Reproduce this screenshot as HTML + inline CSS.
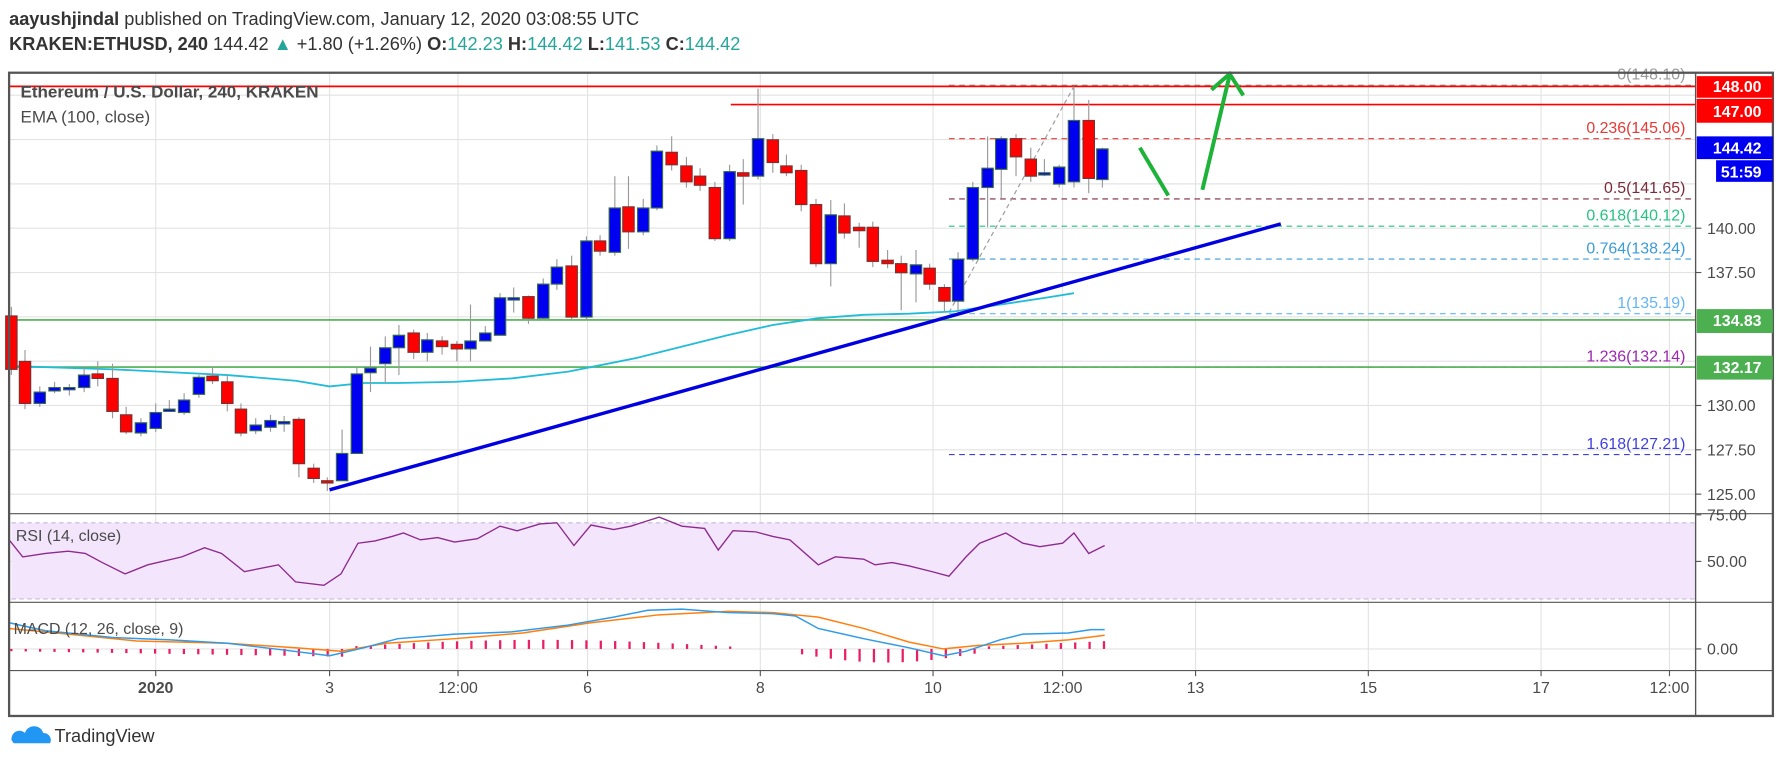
<!DOCTYPE html>
<html><head><meta charset="utf-8"><style>
html,body{margin:0;padding:0;background:#fff;}
svg{display:block;font-family:"Liberation Sans",sans-serif;}
</style></head><body>
<svg id="s" width="1782" height="762" viewBox="0 0 1568 670.5" xmlns="http://www.w3.org/2000/svg">
<rect x="0" y="0" width="1568" height="670.5" fill="#fff"/>
<text x="8" y="22" font-size="16" fill="#333"><tspan font-weight="bold">aayushjindal</tspan> published on TradingView.com, January 12, 2020 03:08:55 UTC</text>
<text x="8" y="44" font-size="16" fill="#333"><tspan font-weight="bold">KRAKEN:ETHUSD, 240</tspan>  144.42 <tspan fill="#26a69a">▲</tspan> +1.80 (+1.26%) <tspan font-weight="bold">O:</tspan><tspan fill="#26a69a">142.23</tspan> <tspan font-weight="bold">H:</tspan><tspan fill="#26a69a">144.42</tspan> <tspan font-weight="bold">L:</tspan><tspan fill="#26a69a">141.53</tspan> <tspan font-weight="bold">C:</tspan><tspan fill="#26a69a">144.42</tspan></text>
<g id="grid" stroke="#e3e3e3" stroke-width="1"></g>
<rect x="10" y="460" width="1482" height="67" fill="#f3e6fc"/>
<line x1="10" y1="460" x2="1492" y2="460" stroke="#c8b8d8" stroke-dasharray="4,3"/>
<line x1="10" y1="527" x2="1492" y2="527" stroke="#c8b8d8" stroke-dasharray="4,3"/>
<g id="fib"></g>
<line x1="8" y1="76" x2="1492" y2="76" stroke="#f00" stroke-width="1.5"/>
<line x1="643" y1="92" x2="1492" y2="92" stroke="#f00" stroke-width="1.5"/>
<line x1="8" y1="281.5" x2="1492" y2="281.5" stroke="#4caf50" stroke-width="1.5"/>
<line x1="8" y1="323" x2="1492" y2="323" stroke="#4caf50" stroke-width="1.5"/>
<line x1="835" y1="275" x2="945" y2="76" stroke="#999" stroke-dasharray="4,3"/>
<polyline fill="none" stroke="#22bcd8" stroke-width="1.6" points="8,322 100,325 140,327 200,330 260,335 290,340 320,337 350,337 400,336 450,333 500,327 520,323 560,315 600,305 640,295 680,286 720,280 760,277 800,276 840,274 880,268 920,262 945,258"/>
<g id="candles"></g>
<line x1="290" y1="431" x2="1127" y2="197" stroke="#0000e0" stroke-width="3"/>
<line x1="1003" y1="130" x2="1028" y2="172" stroke="#1db338" stroke-width="3.5"/>
<line x1="1058" y1="167" x2="1082" y2="66" stroke="#1db338" stroke-width="3.5"/>
<polyline points="1066,79 1082,65 1094,84" fill="none" stroke="#1db338" stroke-width="3.5"/>
<text x="18" y="86" font-size="15" font-weight="bold" fill="#4a4a4a">Ethereum / U.S. Dollar, 240, KRAKEN</text>
<text x="18" y="108" font-size="15" fill="#4a4a4a">EMA (100, close)</text>
<polyline fill="none" stroke="#8e2a8e" stroke-width="1.2" points="8,475 20,490 40,487 60,485 75,487 90,495 110,505 130,497 160,490 180,482 195,487 215,503 245,497 260,512 285,515 300,505 315,478 330,476 345,472 355,469 370,475 385,473 400,477 420,474 440,463 455,467 475,461 490,460 505,480 520,462 540,466 555,463 580,455 600,463 620,465 632,484 645,467 665,468 680,472 695,475 720,497 735,490 760,492 770,497 785,495 800,498 820,503 835,507 850,490 862,478 885,469 900,478 915,481 935,478 945,469 958,487 972,480"/>
<text x="14" y="476" font-size="14" fill="#4a4a4a">RSI (14, close)</text>
<g id="hist"></g>
<polyline fill="none" stroke="#ff7f0e" stroke-width="1.3" points="8,553 60,558 120,564 200,566 260,570 300,573 340,566 400,562 460,557 520,548 580,541 640,538 680,539 720,543 760,553 800,565 830,571 860,568 900,566 940,563 972,559"/>
<polyline fill="none" stroke="#2f9ae8" stroke-width="1.3" points="8,548 40,555 100,561 150,563 200,566 250,572 290,577 320,570 350,562 400,558 450,556 500,550 540,543 570,537 600,536 640,539 680,540 700,542 720,553 760,562 800,570 830,577 850,573 880,563 900,558 940,557 960,554 972,554"/>
<text x="12" y="558" font-size="14" fill="#4a4a4a">MACD (12, 26, close, 9)</text>
<g stroke="#555" fill="none">
<rect x="8" y="64" width="1552" height="566" stroke-width="2"/>
<line x1="1492" y1="64" x2="1492" y2="630" stroke-width="1.2"/>
<line x1="8" y1="452" x2="1560" y2="452"/>
<line x1="8" y1="530" x2="1560" y2="530"/>
<line x1="8" y1="590" x2="1560" y2="590"/>
</g>
<g id="axis" font-size="13" fill="#4a4a4a"></g>
<g font-size="14" font-weight="bold" fill="#fff">
<rect x="1493" y="67" width="67" height="19" fill="#f00"/><text x="1550" y="81" text-anchor="end">148.00</text>
<rect x="1493" y="87" width="67" height="21" fill="#f00"/><text x="1550" y="103" text-anchor="end">147.00</text>
<rect x="1493" y="120" width="67" height="20" fill="#0000f0"/><text x="1550" y="135" text-anchor="end">144.42</text>
<rect x="1510" y="141" width="50" height="19" fill="#0000f0"/><text x="1550" y="156" text-anchor="end">51:59</text>
<rect x="1493" y="272" width="67" height="21" fill="#4caf50"/><text x="1550" y="287" text-anchor="end">134.83</text>
<rect x="1493" y="313" width="67" height="21" fill="#4caf50"/><text x="1550" y="328" text-anchor="end">132.17</text>
</g>
<g transform="translate(10,637)"><path d="M0,14 C0,6 8,4 12,8 C14,0 26,0 28,8 C34,8 36,14 34,17 L2,17 Z" fill="#2196f3"/></g>
<text x="48" y="653" font-size="16" fill="#333">TradingView</text>
</svg>
<script>
var NS="http://www.w3.org/2000/svg";
function el(p,t,a){var e=document.createElementNS(NS,t);for(var k in a)e.setAttribute(k,a[k]);document.getElementById(p).appendChild(e);return e;}
function Y(p){return 76+(148-p)*15.6;}
// grid
[137,290,403,517,669,821,935,1052,1204,1356,1469].forEach(function(x){el("grid","line",{x1:x,y1:64,x2:x,y2:590});});
for(var p=125;p<=147.5;p+=2.5){el("grid","line",{x1:8,y1:Y(p),x2:1492,y2:Y(p)});}
el("grid","line",{x1:8,y1:494,x2:1492,y2:494});el("grid","line",{x1:8,y1:571,x2:1492,y2:571});
// fib
var fib=[[75,"#999","0(148.10)"],[122,"#e53935","0.236(145.06)"],[175,"#7b2a3a","0.5(141.65)"],[199,"#26c281","0.618(140.12)"],[228,"#3a9bd9","0.764(138.24)"],[276,"#64b5f6","1(135.19)"],[323,"#9c27b0","1.236(132.14)"],[400,"#3f3fe0","1.618(127.21)"]];
fib.forEach(function(f){el("fib","line",{x1:835,y1:f[0],x2:1492,y2:f[0],stroke:f[1],"stroke-dasharray":"5,4"});var t=el("fib","text",{x:1483,y:f[0]-5,"font-size":14,fill:f[1],"text-anchor":"end"});t.textContent=f[2];});
// candles [x,o,c,h,l]
var C=[[10,278,325,270,330],[22,318,355,308,360],[35,355,345,340,358],[48,344,341,336,346],[61,343,341,338,348],[74,341,330,322,345],[86,329,333,318,340],[99,333,362,320,368],[111,365,380,358,382],[124,381,372,368,384],[137,377,363,355,380],[149,361,360,352,362],[162,363,352,346,365],[175,347,332,330,350],[187,331,335,322,338],[200,336,355,330,362],[212,360,381,355,384],[225,379,374,368,382],[238,376,370,365,380],[250,372,371,366,380],[263,369,408,367,420],[276,412,421,408,425],[288,423,425,420,432],[301,423,399,378,423],[314,399,329,322,399],[326,328,324,305,345],[339,320,306,296,337],[351,306,295,286,330],[364,293,310,290,316],[376,310,299,293,318],[389,300,305,296,312],[402,303,307,300,318],[414,307,300,268,318],[427,300,293,287,300],[440,295,262,258,295],[452,263,262,253,275],[465,261,280,260,285],[478,280,250,245,282],[490,250,235,228,255],[503,234,279,225,282],[516,279,212,208,282],[528,212,221,207,225],[541,222,183,155,225],[553,182,204,155,219],[566,204,183,175,207],[578,183,133,128,185],[591,134,145,120,150],[604,146,160,138,165],[616,155,163,148,168],[629,165,210,160,212],[642,210,151,145,212],[654,152,155,140,180],[667,155,122,78,158],[680,123,143,118,152],[692,146,152,136,155],[705,150,180,145,186],[718,180,232,175,235],[731,232,189,176,252],[743,190,205,179,210],[756,200,203,196,218],[768,200,230,195,235],[781,229,232,220,236],[793,232,240,225,273],[806,241,233,220,266],[818,236,250,232,255],[831,253,265,250,275],[843,265,228,222,275],[856,228,165,160,230],[869,165,148,120,200],[881,149,122,120,175],[894,122,138,118,155],[907,140,155,130,160],[919,153,152,140,155],[932,162,147,145,165],[945,160,106,77,165],[958,106,157,88,170],[970,158,131,130,165]];
C.forEach(function(c){var up=c[2]<c[1];var t=Math.min(c[1],c[2]),b=Math.max(c[1],c[2]);
el("candles","line",{x1:c[0],y1:c[3],x2:c[0],y2:c[4],stroke:"#999"});
el("candles","rect",{x:c[0]-5,y:t,width:10,height:Math.max(b-t,2),fill:up?"#0000f0":"#f00",stroke:up?"#3a6b4a":"#7a3030","stroke-width":1});});
// histogram
for(var x=10;x<=975;x+=12.65){var h=0;
if(x<305)h=2+((x-10)/300)*5;else if(x<645)h=-(2+Math.sin((x-305)/340*Math.PI)*6);else if(x<695)h=0;else if(x<865)h=3+Math.sin((x-695)/170*Math.PI)*9;else h=-(2+(x-865)/110*5);
if(h!=0)el("hist","line",{x1:x,y1:571,x2:x,y2:571+h,stroke:"#e91e63","stroke-width":2});}
// axis labels
[[140,"140.00"],[137.5,"137.50"],[130,"130.00"],[127.5,"127.50"],[125,"125.00"]].forEach(function(a){var y=Y(a[0]);el("axis","line",{x1:1492,y1:y,x2:1497,y2:y,stroke:"#555"});var t=el("axis","text",{x:1502,y:y+5,"font-size":14});t.textContent=a[1];});
[[453,"75.00"],[494,"50.00"],[571,"0.00"]].forEach(function(a){el("axis","line",{x1:1492,y1:a[0],x2:1497,y2:a[0],stroke:"#555"});var t=el("axis","text",{x:1502,y:a[0]+5,"font-size":14});t.textContent=a[1];});
[[137,"2020"],[290,"3"],[403,"12:00"],[517,"6"],[669,"8"],[821,"10"],[935,"12:00"],[1052,"13"],[1204,"15"],[1356,"17"],[1469,"12:00"]].forEach(function(a){el("axis","line",{x1:a[0],y1:590,x2:a[0],y2:595,stroke:"#555"});var t=el("axis","text",{x:a[0],y:610,"text-anchor":"middle","font-size":14,"font-weight":a[1]=="2020"?"bold":"normal"});t.textContent=a[1];});
</script>
</body></html>
